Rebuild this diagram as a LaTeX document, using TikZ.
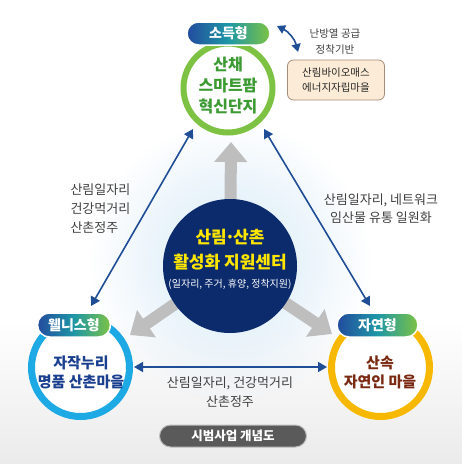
\documentclass[tikz,border=0pt]{standalone}
\usepackage{fontspec}
\setmainfont{Noto Sans CJK KR}
\usetikzlibrary{arrows.meta,fadings,shapes.misc}
\tikzfading[name=myglow,inner color=transparent!0,outer color=transparent!100]
\definecolor{navy}{HTML}{0B2B6C}
\definecolor{ctryellow}{HTML}{FFE600}
\definecolor{topgreen}{HTML}{7DC243}
\definecolor{txtgreen}{HTML}{3C9A33}
\definecolor{leftblue}{HTML}{1DA9E3}
\definecolor{txtblue}{HTML}{1B3F8F}
\definecolor{rightgold}{HTML}{F6B800}
\definecolor{txtbrown}{HTML}{7A2A12}
\definecolor{arrowblue}{HTML}{1F4E96}
\definecolor{arrowgray}{HTML}{BEBEBE}
\definecolor{pillblue}{HTML}{234B9E}
\definecolor{pillteal}{HTML}{1E97A6}
\definecolor{pillgreen}{HTML}{7CC243}
\definecolor{labelgray}{HTML}{404040}
\definecolor{boxfill}{HTML}{FCEBD6}
\definecolor{boxdraw}{HTML}{A38F7C}
\definecolor{glow}{HTML}{D3E8F7}
\definecolor{darkpill}{HTML}{5A5A5A}
\begin{document}
\begin{tikzpicture}[x=1pt,y=-1pt,
  ring/.style={circle,fill=white,draw=#1},
  pill/.style={rounded rectangle,draw=white,line width=1.5pt,
    left color=pillblue,right color=pillgreen,middle color=pillteal,
    text=white,font=\bfseries\fontsize{14}{16}\selectfont,inner sep=0pt},
  graylabel/.style={text=labelgray,font=\fontsize{13}{19}\selectfont},
  bluearrow/.style={draw=arrowblue,line width=1.6pt,{Triangle[width=10pt,length=9pt]}-{Triangle[width=10pt,length=9pt]}},
  grayarrow/.style={draw=arrowgray,line width=12pt,-{Triangle[width=32pt,length=20pt]}}]
\useasboundingbox (0,0) rectangle (462,464);
% background
\fill[white] (0,0) rectangle (462,464);
\shade[top color=white,bottom color=black!8] (0,320) rectangle (462,464);
\fill[glow,path fading=myglow] (230,262) circle (140);
% gray arrows from the centre
\coordinate (c0) at (230,266);
\coordinate (tipU) at (231,142);
\coordinate (tipL) at (130,335);
\coordinate (tipR) at (332,334);
\draw[grayarrow] (c0) -- (tipU);
\draw[grayarrow] (c0) -- (tipL);
\draw[grayarrow] (c0) -- (tipR);
% centre circle
\node[circle,fill=navy,minimum size=134pt,inner sep=0pt] (center) at (c0) {};
\node[text=ctryellow,font=\bfseries\fontsize{17}{25}\selectfont,align=center] (ctitle) at (230,249.5) {산림\kern-0.12em·\kern-0.12em산촌\\활성화 지원센터};
\node[text=white,font=\fontsize{10}{12}\selectfont] (csub) at (230,284) {(일자리, 주거, 휴양, 정착지원)};
% outer circles
\node[ring=topgreen,line width=6pt,minimum size=89pt,inner sep=0pt] (top) at (228,88) {};
\node[ring=leftblue,line width=7pt,minimum size=98pt,inner sep=0pt] (left) at (80.5,367.5) {};
\node[ring=rightgold,line width=7pt,minimum size=98pt,inner sep=0pt] (right) at (380.5,367.5) {};
\node[text=txtgreen,font=\bfseries\fontsize{16}{21}\selectfont,align=center] (toptxt) at (228,86) {산채\\스마트팜\\혁신단지};
\node[text=txtblue,font=\bfseries\fontsize{15}{19}\selectfont,align=center] (lefttxt) at (81,372) {자작누리\\명품 산촌마을};
\node[text=txtbrown,font=\bfseries\fontsize{15}{19}\selectfont,align=center] (righttxt) at (380,372) {산속\\자연인 마을};
% pills
\node[pill,minimum width=83pt,minimum height=23pt] (ptop) at (228.5,33.5) {소득형};
\node[pill,minimum width=73pt,minimum height=24pt] (pleft) at (74,325) {웰니스형};
\node[pill,minimum width=81pt,minimum height=24pt] (pright) at (377.5,325) {자연형};
% blue connectors
\coordinate (tl) at (193,129);
\coordinate (lt) at (91,306);
\coordinate (tr) at (264,129);
\coordinate (rt) at (370,306);
\coordinate (lr) at (134,367);
\coordinate (rl) at (327,367);
\draw[bluearrow] (tl) -- (lt);
\draw[bluearrow] (tr) -- (rt);
\draw[bluearrow] (lr) -- (rl);
% labels
\node[graylabel,align=left,anchor=west] (lablft) at (67,209) {산림일자리\\건강먹거리\\산촌정주};
\node[graylabel,align=center,font=\fontsize{13}{18}\selectfont] (labrgt) at (381,209) {산림일자리, 네트워크\\임산물 유통 일원화};
\node[graylabel,align=center] (labbot) at (230,392) {산림일자리, 건강먹거리\\산촌정주};
% top-right note and box
\node[text=labelgray,font=\fontsize{10.5}{16}\selectfont,align=center] (note) at (335,41.5) {난방열 공급\\정착기반};
\node[rounded corners=6pt,fill=boxfill,draw=boxdraw,line width=0.8pt,minimum width=97pt,minimum height=40pt,align=center,
  text=black!85,font=\fontsize{10.5}{15}\selectfont] (box) at (336,80) {산림바이오매스\\에너지자립마을};
\coordinate (ca) at (277,26);
\coordinate (cb) at (298,52);
\draw[draw=arrowblue,line width=1.6pt,{Triangle[width=9pt,length=8pt]}-{Triangle[width=9pt,length=8pt]}] (ca) to[bend left=25] (cb);
% bottom caption
\node[rounded rectangle,fill=darkpill,draw=black!25,line width=1pt,minimum width=147pt,minimum height=22pt,inner sep=0pt,
  text=white,font=\bfseries\fontsize{12.5}{14}\selectfont] (caption) at (233,436) {시범사업 개념도};
\end{tikzpicture}
\end{document}
